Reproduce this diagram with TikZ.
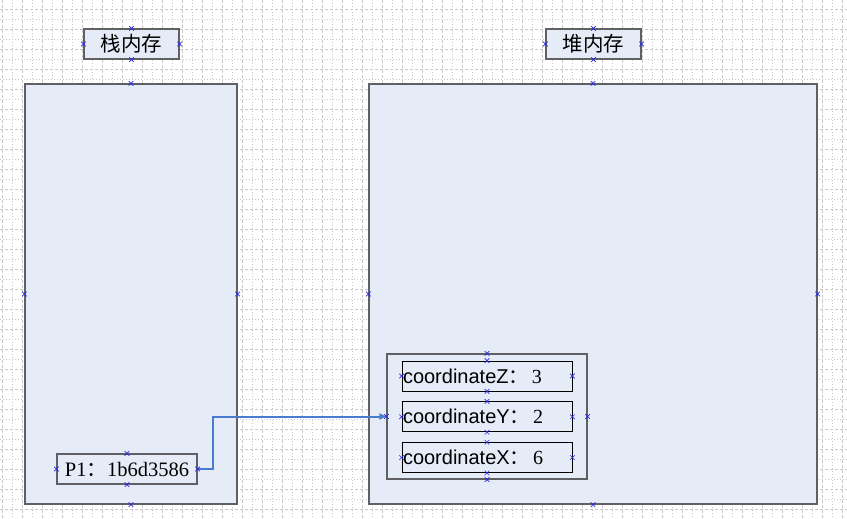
\documentclass[tikz,border=0pt]{standalone}
\usepackage{fontspec}
\setmainfont{Liberation Serif}
\newfontfamily\cjk{Noto Sans CJK SC}
\newfontfamily\arialfont{Liberation Sans}
\usetikzlibrary{calc,shapes.misc,arrows.meta,positioning}
\definecolor{boxfill}{RGB}{230,236,247}
\definecolor{boxline}{RGB}{95,95,100}
\definecolor{gridgray}{RGB}{200,200,200}
\definecolor{linkblue}{RGB}{74,124,206}
\definecolor{markblue}{RGB}{40,40,230}
\tikzset{
     gridminor/.style = {gridgray, line width=0.6pt, dash pattern=on 1pt off 2pt},
     gridmajor/.style = {gridgray, line width=0.6pt, dash pattern=on 3pt off 2pt},
     membox/.style = {draw=boxline, fill=boxfill, line width=1.2pt, inner sep=0pt},
     titlebox/.style = {membox, minimum width=95pt, minimum height=30pt,
                        font=\cjk\fontsize{20.5}{22}\selectfont},
     fieldbox/.style = {draw=black, fill=boxfill, line width=0.8pt, minimum height=30pt,
                        text width=168pt, align=left, inner xsep=1pt,
                        font=\arialfont\fontsize{20}{22}\selectfont},
     ptrbox/.style = {membox, minimum width=140pt, minimum height=30pt,
                      font=\fontsize{20.5}{22}\selectfont},
     link/.style = {linkblue, line width=2pt, -{Triangle[length=7pt,width=6pt]}},
     cpmark/.style = {cross out, draw=markblue, minimum size=4pt, inner sep=0pt, line width=0.6pt},
    }
\newcommand{\cpmarks}[1]{\foreach \a in {north,south,east,west} \node[cpmark] (#1-\a) at (#1.\a) {};}
\newcommand{\fwcolon}{{\cjk ：}}
\newcommand{\val}[1]{\fwcolon\normalfont\,#1}

\begin{document}
\begin{tikzpicture}[x=1pt,y=-1pt]
    \useasboundingbox[fill=white] (0,0) rectangle (847,519);
    % background grid
    \foreach \gx [count=\i] in {2,12,...,842} {
        \ifodd\i \draw[gridmajor] (\gx,0) -- (\gx,519); \else \draw[gridminor] (\gx,0) -- (\gx,519); \fi
    }
    \foreach \gy [count=\i] in {9,19,...,519} {
        \ifodd\i \draw[gridmajor] (0,\gy) -- (847,\gy); \else \draw[gridminor] (0,\gy) -- (847,\gy); \fi
    }

    % stack and heap
    \node [titlebox] (stacktitle) at (131.5,44) {栈内存};
    \node [titlebox] (heaptitle)  at (593.5,44) {堆内存};
    \node [membox, minimum width=212pt, minimum height=420pt] (stack) at (131,294) {};
    \node [membox, minimum width=448pt, minimum height=420pt] (heap)  at (593,294) {};

    % object in the heap
    \node [membox, minimum width=200pt, minimum height=125pt] (obj) at (487,416.5) {};
    \node [fieldbox] (fz) at (487,376) {coordinateZ\val{3}};
    \node [fieldbox] (fy) [below=10pt of fz] {coordinateY\val{2}};
    \node [fieldbox] (fx) [below=10pt of fy] {coordinateX\val{6}};

    % reference on the stack
    \node [ptrbox] (p1) at (127,469) {P1\fwcolon 1b6d3586};

    \draw [link] (p1.east) -- ++(15,0) |- (obj.west);

    % connection points
    \foreach \n in {stacktitle,heaptitle,stack,heap,obj,fz,fy,fx,p1} { \cpmarks{\n} }
\end{tikzpicture}
\end{document}
